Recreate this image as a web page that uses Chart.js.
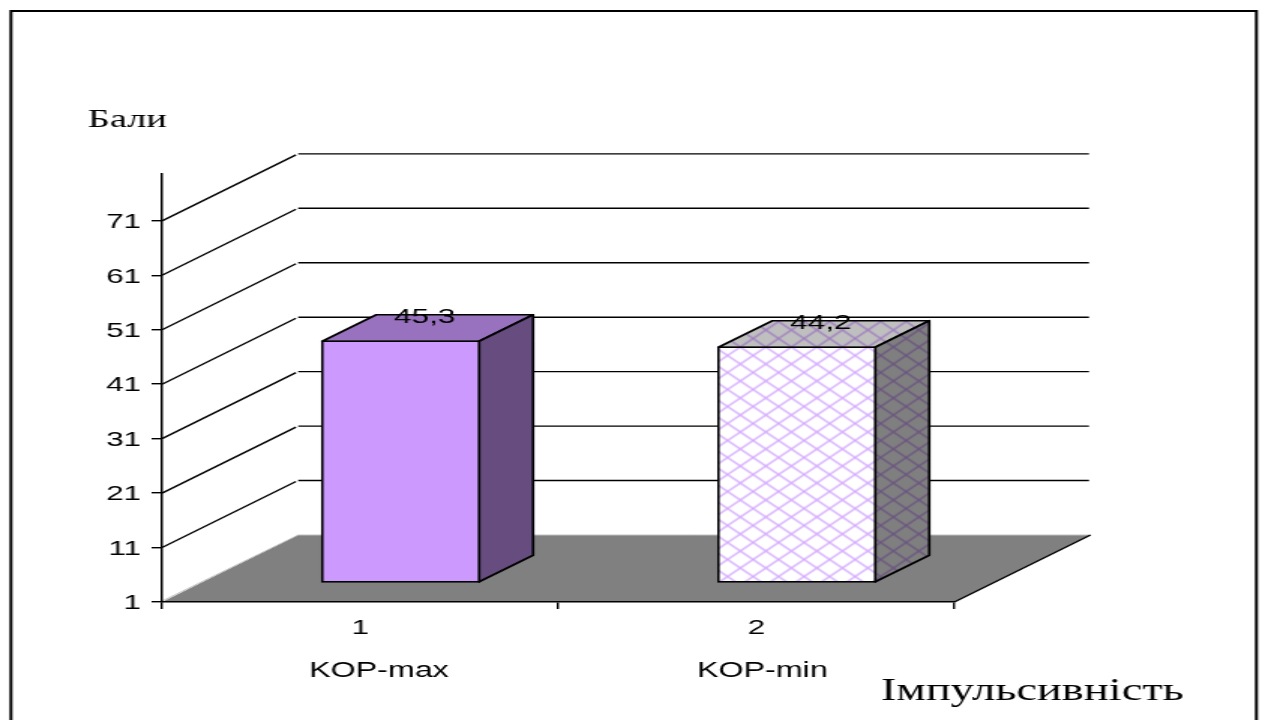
<!DOCTYPE html>
<html>
<head>
<meta charset="utf-8">
<title>Імпульсивність</title>
<script src="https://cdn.jsdelivr.net/npm/chart.js@4"></script>
<style>
  html, body { margin: 0; padding: 0; background: #fff; overflow: hidden; }
</style>
</head>
<body>
<!-- the chart is drawn narrow and widened by the browser -->
<canvas id="grafico" width="841" height="720" style="display:block;width:1262px;height:720px"></canvas>
<script>
const categorias = ['1', '2']
const nomes = ['KOP-max', 'KOP-min']
const valores = [45.3, 44.2]
const ticksY = [1, 11, 21, 31, 41, 51, 61, 71]
const tituloY = 'Бали'
const tituloX = 'Імпульсивність'

const LILA = '#CC99FF'
const SANS = '"Liberation Sans", Arial, sans-serif'
const SERIF = '"Liberation Serif", "Times New Roman", serif'

// depth of the floor and of the bars, in canvas pixels
const FUNDO = { dx: 90.7, dy: 67 }
const BARRA = { dx: 36, dy: 26.5 }
const RECUO = { dx: 27, dy: 19.5 }

// lattice fill of the second bar
const criarTrama = () => {
  const c = document.createElement('canvas')
  c.width = 17
  c.height = 17
  const g = c.getContext('2d')
  g.fillStyle = '#fff'
  g.fillRect(0, 0, 17, 17)
  g.strokeStyle = LILA
  g.globalAlpha = 0.85
  g.lineWidth = 1.3
  g.beginPath()
  g.moveTo(0, 0)
  g.lineTo(17, 17)
  g.moveTo(17, 0)
  g.lineTo(0, 17)
  g.stroke()
  const trama = g.createPattern(c, 'repeat')
  trama.setTransform(new DOMMatrix().translate(-1.2, 1))
  return trama
}

const face = (ctx, pontos, cor, sombra) => {
  ctx.beginPath()
  pontos.forEach((p, i) => i ? ctx.lineTo(p[0], p[1]) : ctx.moveTo(p[0], p[1]))
  ctx.closePath()
  ctx.fillStyle = cor
  ctx.fill()
  ctx.fillStyle = sombra
  ctx.fill()
  ctx.strokeStyle = '#000'
  ctx.lineWidth = 1.7
  ctx.lineJoin = 'round'
  ctx.stroke()
}

const cena3d = {
  id: 'cena3d',
  beforeDraw(chart) {
    const { ctx, chartArea: a, scales: { y } } = chart
    ctx.save()
    // frame
    ctx.strokeStyle = '#000'
    ctx.lineWidth = 2
    ctx.strokeRect(7.3, 11, 830, 740)

    // floor
    const fundoY = a.bottom - FUNDO.dy
    ctx.beginPath()
    ctx.moveTo(a.left, a.bottom)
    ctx.lineTo(a.left + FUNDO.dx, fundoY)
    ctx.lineTo(a.right + FUNDO.dx, fundoY)
    ctx.lineTo(a.right, a.bottom)
    ctx.closePath()
    ctx.fillStyle = '#808080'
    ctx.fill()
    ctx.strokeStyle = '#c0c0c0'
    ctx.lineWidth = 1
    ctx.beginPath()
    ctx.moveTo(a.left, a.bottom - 1)
    ctx.lineTo(a.left + FUNDO.dx, fundoY)
    ctx.lineTo(a.right + FUNDO.dx, fundoY)
    ctx.stroke()
    ctx.strokeStyle = '#000'
    ctx.lineWidth = 1.4
    ctx.beginPath()
    ctx.moveTo(a.right, a.bottom)
    ctx.lineTo(a.right + FUNDO.dx, fundoY)
    ctx.stroke()

    // side wall and back wall lines
    ticksY.slice(1).forEach(v => {
      const py = y.getPixelForValue(v)
      ctx.beginPath()
      ctx.moveTo(a.left, py)
      ctx.lineTo(a.left + FUNDO.dx - 1.5, py - FUNDO.dy + 1)
      ctx.moveTo(a.left + FUNDO.dx, py - FUNDO.dy)
      ctx.lineTo(a.right + FUNDO.dx - 1, py - FUNDO.dy)
      ctx.stroke()
    })
    ctx.restore()
  },
  beforeDatasetDraw(chart, args) {
    const { ctx } = chart
    ctx.save()
    ctx.translate(RECUO.dx, -RECUO.dy)
    args.meta.data.forEach(b => {
      const esq = b.x - b.width / 2
      const dir = b.x + b.width / 2
      const cor = b.options.backgroundColor
      face(ctx, [[esq, b.y], [esq + BARRA.dx, b.y - BARRA.dy], [dir + BARRA.dx, b.y - BARRA.dy], [dir, b.y]], cor, 'rgba(0,0,0,0.25)')
      face(ctx, [[dir, b.y], [dir + BARRA.dx, b.y - BARRA.dy], [dir + BARRA.dx, b.base - BARRA.dy], [dir, b.base]], cor, 'rgba(0,0,0,0.5)')
    })
  },
  afterDatasetDraw(chart) {
    chart.ctx.restore()
  },
  afterDatasetsDraw(chart) {
    const { ctx } = chart
    const meta = chart.getDatasetMeta(0)
    ctx.save()
    ctx.fillStyle = '#000'
    ctx.textAlign = 'center'
    ctx.textBaseline = 'middle'
    ctx.font = '21px ' + SANS
    meta.data.forEach((b, i) => {
      const texto = valores[i].toFixed(1).replace('.', ',')
      ctx.fillText(texto, b.x + RECUO.dx + 16, b.y - RECUO.dy - BARRA.dy + 2)
    })
    // series names under the category numbers
    ctx.font = '21.5px ' + SANS
    ctx.fillText(nomes[0], 252.5, 671)
    ctx.fillText(nomes[1], 508, 671)

    ctx.textAlign = 'left'
    ctx.textBaseline = 'alphabetic'
    ctx.font = '25.5px ' + SERIF
    ctx.fillText(tituloY, 58.5, 127)
    ctx.font = '31px ' + SERIF
    ctx.fillText(tituloX, 587, 700)
    ctx.restore()
  }
}

const ctx = document.getElementById('grafico')

let grafico = new Chart(ctx, {
  type: 'bar',
  data: {
    labels: categorias,
    datasets: [{
      data: valores,
      base: 1,
      backgroundColor: [LILA, criarTrama()],
      borderColor: '#000',
      borderWidth: 1.7,
      borderSkipped: false,
      inflateAmount: 0.85,
      barPercentage: 0.396,
      categoryPercentage: 1,
      clip: false
    }]
  },
  plugins: [cena3d],
  options: {
    responsive: false,
    animation: false,
    events: [],
    layout: { padding: { left: 0, top: 174, right: 205, bottom: 0 } },
    plugins: { legend: { display: false }, tooltip: { enabled: false } },
    scales: {
      x: {
        afterFit: s => { s.height = 118 },
        grid: { drawOnChartArea: false, tickLength: 7, tickColor: '#000', lineWidth: 1.4 },
        border: { display: true, color: '#000', width: 1.5 },
        ticks: { color: '#000', font: { family: SANS, size: 21 }, padding: 7, maxRotation: 0 }
      },
      y: {
        min: 1,
        max: 79.6,
        afterBuildTicks: s => { s.ticks = ticksY.map(v => ({ value: v })) },
        afterFit: s => { s.width = 108 },
        grid: { drawOnChartArea: false, tickLength: 7, tickColor: '#000', lineWidth: 1.4 },
        border: { display: true, color: '#000', width: 1.5 },
        ticks: { color: '#000', font: { family: SANS, size: 21 }, padding: 7, labelOffset: 1.5 }
      }
    }
  }
})
</script>
</body>
</html>
